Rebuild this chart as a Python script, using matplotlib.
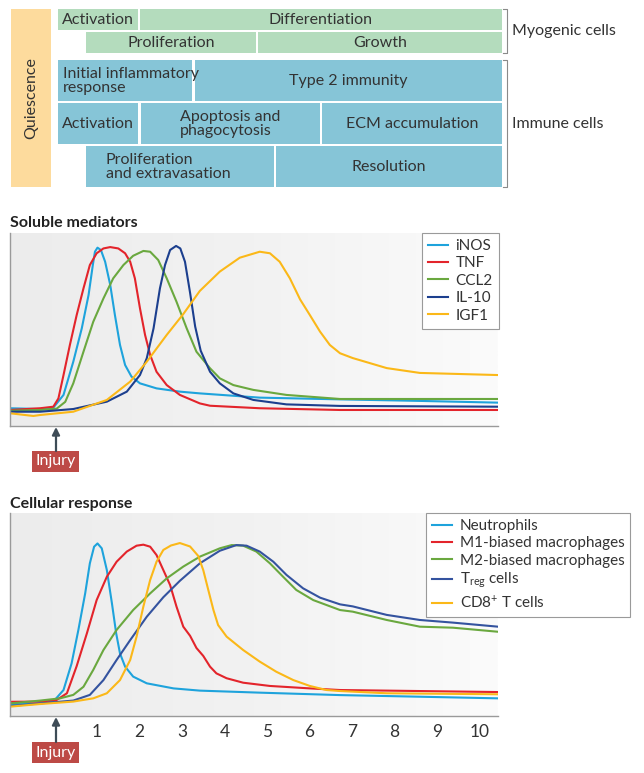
import numpy as np
import matplotlib
matplotlib.use('Agg')
import matplotlib.pyplot as plt
from matplotlib.patches import Rectangle
from matplotlib.colors import LinearSegmentedColormap

plt.rcParams['font.family'] = ['Lato', 'DejaVu Sans']
plt.rcParams['mathtext.fontset'] = 'custom'
plt.rcParams['mathtext.rm'] = 'Lato'
plt.rcParams['mathtext.it'] = 'Lato:italic'

# ---------------- data ----------------
# Soluble mediators (x = days after injury, y = relative level)
inos_x = [-1.05, -0.34, -0.03, 0.21, 0.44, 0.64, 0.80, 0.90, 0.95, 1.01, 1.09, 1.19, 1.31, 1.42, 1.54, 1.66, 1.81, 2.01, 2.40, 2.95, 3.42, 4.83, 6.72, 8.60, 10.44]
inos_y = [0.092, 0.088, 0.095, 0.161, 0.333, 0.506, 0.679, 0.834, 0.903, 0.924, 0.912, 0.851, 0.731, 0.575, 0.420, 0.316, 0.256, 0.221, 0.195, 0.178, 0.169, 0.147, 0.138, 0.130, 0.121]

tnf_x = [-1.05, -0.34, -0.03, 0.09, 0.21, 0.36, 0.52, 0.68, 0.83, 0.99, 1.15, 1.31, 1.50, 1.66, 1.78, 1.89, 2.01, 2.13, 2.25, 2.40, 2.64, 2.95, 3.42, 3.66, 4.83, 6.72, 10.44]
tnf_y = [0.083, 0.092, 0.100, 0.143, 0.264, 0.420, 0.575, 0.713, 0.834, 0.895, 0.920, 0.927, 0.920, 0.895, 0.851, 0.765, 0.610, 0.472, 0.368, 0.281, 0.212, 0.161, 0.117, 0.105, 0.092, 0.083, 0.083]

ccl2_x = [-1.05, -0.34, 0.05, 0.25, 0.44, 0.68, 0.91, 1.15, 1.38, 1.62, 1.85, 2.09, 2.25, 2.44, 2.64, 2.87, 3.11, 3.34, 3.66, 3.89, 4.21, 4.68, 5.46, 6.72, 10.44]
ccl2_y = [0.079, 0.083, 0.090, 0.125, 0.221, 0.385, 0.540, 0.661, 0.765, 0.834, 0.882, 0.907, 0.903, 0.860, 0.765, 0.644, 0.506, 0.385, 0.299, 0.247, 0.212, 0.187, 0.161, 0.140, 0.140]

il10_x = [-1.05, -0.34, 0.44, 1.23, 1.70, 2.01, 2.17, 2.33, 2.48, 2.60, 2.72, 2.86, 2.96, 3.07, 3.19, 3.31, 3.44, 3.66, 3.89, 4.21, 4.68, 5.46, 6.72, 10.44]
il10_y = [0.074, 0.074, 0.088, 0.126, 0.178, 0.264, 0.351, 0.506, 0.713, 0.834, 0.912, 0.933, 0.920, 0.851, 0.690, 0.515, 0.390, 0.281, 0.221, 0.169, 0.135, 0.112, 0.104, 0.100]

igf1_x = [-1.05, -0.50, -0.34, 0.44, 1.23, 1.78, 2.17, 2.64, 3.03, 3.42, 3.89, 4.36, 4.83, 5.07, 5.30, 5.54, 5.78, 6.01, 6.25, 6.48, 6.72, 7.02, 7.82, 8.60, 10.44]
igf1_y = [0.066, 0.052, 0.057, 0.074, 0.135, 0.230, 0.333, 0.472, 0.580, 0.700, 0.800, 0.872, 0.903, 0.895, 0.851, 0.765, 0.656, 0.575, 0.489, 0.420, 0.377, 0.352, 0.300, 0.275, 0.264]

# Cellular response
neut_x = [-1.05, -0.34, -0.03, 0.21, 0.40, 0.56, 0.72, 0.83, 0.93, 1.01, 1.11, 1.23, 1.35, 1.45, 1.54, 1.66, 1.85, 2.17, 2.80, 3.42, 4.83, 6.72, 8.60, 10.44]
neut_y = [0.059, 0.062, 0.071, 0.128, 0.259, 0.424, 0.604, 0.752, 0.834, 0.850, 0.826, 0.719, 0.555, 0.407, 0.308, 0.243, 0.194, 0.161, 0.136, 0.125, 0.115, 0.103, 0.095, 0.087]

m1_x = [-1.05, -0.34, 0.05, 0.29, 0.52, 0.76, 0.99, 1.23, 1.46, 1.70, 1.93, 2.09, 2.25, 2.40, 2.56, 2.72, 2.87, 3.03, 3.19, 3.34, 3.50, 3.66, 3.81, 4.05, 4.44, 5.07, 6.01, 6.72, 10.44]
m1_y = [0.070, 0.071, 0.079, 0.112, 0.246, 0.407, 0.571, 0.686, 0.760, 0.810, 0.839, 0.844, 0.834, 0.793, 0.719, 0.645, 0.539, 0.440, 0.395, 0.335, 0.296, 0.243, 0.210, 0.186, 0.164, 0.148, 0.136, 0.128, 0.118]

m2_x = [-1.05, -0.34, 0.13, 0.44, 0.68, 0.91, 1.15, 1.46, 1.85, 2.25, 2.64, 3.03, 3.42, 3.89, 4.17, 4.44, 4.75, 5.07, 5.38, 5.69, 6.09, 6.72, 7.02, 7.82, 8.60, 9.38, 10.44]
m2_y = [0.062, 0.076, 0.087, 0.104, 0.144, 0.227, 0.325, 0.424, 0.522, 0.604, 0.678, 0.736, 0.785, 0.826, 0.842, 0.839, 0.810, 0.752, 0.686, 0.621, 0.571, 0.522, 0.514, 0.473, 0.440, 0.435, 0.415]

treg_x = [-1.05, -0.34, 0.44, 0.83, 1.15, 1.46, 1.78, 2.17, 2.56, 2.95, 3.42, 3.89, 4.28, 4.52, 4.83, 5.15, 5.46, 5.85, 6.25, 6.72, 7.02, 7.82, 8.60, 9.38, 10.44]
treg_y = [0.049, 0.062, 0.076, 0.104, 0.177, 0.276, 0.374, 0.489, 0.585, 0.666, 0.752, 0.814, 0.842, 0.839, 0.810, 0.760, 0.695, 0.629, 0.583, 0.550, 0.540, 0.498, 0.473, 0.460, 0.440]

cd8_x = [-1.05, -0.34, 0.44, 0.91, 1.23, 1.54, 1.78, 1.93, 2.09, 2.25, 2.40, 2.56, 2.74, 2.95, 3.19, 3.38, 3.50, 3.62, 3.74, 3.85, 4.05, 4.44, 4.83, 5.22, 5.62, 6.01, 6.40, 6.72, 7.82, 10.44]
cd8_y = [0.046, 0.059, 0.071, 0.087, 0.112, 0.177, 0.276, 0.391, 0.539, 0.670, 0.760, 0.818, 0.840, 0.852, 0.835, 0.789, 0.719, 0.620, 0.522, 0.448, 0.391, 0.325, 0.268, 0.218, 0.177, 0.148, 0.128, 0.123, 0.112, 0.107]

soluble_labels = ['iNOS', 'TNF', 'CCL2', 'IL-10', 'IGF1']
cellular_labels = ['Neutrophils', 'M1-biased macrophages', 'M2-biased macrophages',
                   r'T$_{\mathregular{reg}}$ cells', r'CD8$^{\mathregular{+}}$ T cells']
day_ticks = [1, 2, 3, 4, 5, 6, 7, 8, 9, 10]

myogenic_rows = [[('Activation', 58, 138), ('Differentiation', 140, 502)],
                 [('Proliferation', 86, 256), ('Growth', 258, 502)]]
immune_rows = [[('Initial inflammatory\nresponse', 58, 192), ('Type 2 immunity', 195, 502)],
               [('Activation', 58, 138), ('Apoptosis and\nphagocytosis', 141, 320), ('ECM accumulation', 322, 502)],
               [('Proliferation\nand extravasation', 86, 274), ('Resolution', 276, 502)]]

# ---------------- style ----------------
C_LBLUE = '#1ea3dc'
C_RED = '#e3242b'
C_GREEN = '#6aa83f'
C_DBLUE = '#1c3f8e'
C_TREG = '#34539f'
C_YELLOW = '#fbb818'
BOX_GREEN = '#b4dcbd'
BOX_BLUE = '#86c5d7'
BOX_QUI = '#fddb9d'
TXT = '#333333'

W, H = 644, 773
fig = plt.figure(figsize=(W / 100, H / 100), dpi=100)

def px_axes(x0, y0, x1, y1):
    return fig.add_axes([x0 / W, 1 - y1 / H, (x1 - x0) / W, (y1 - y0) / H])

ov = fig.add_axes([0, 0, 1, 1])
ov.set_xlim(0, W)
ov.set_ylim(H, 0)
ov.axis('off')
ov.patch.set_alpha(0)

# Quiescence
ov.add_patch(Rectangle((11, 9), 40, 178, facecolor=BOX_QUI, edgecolor='none'))
ov.text(31, 98, 'Quiescence', rotation=90, ha='center', va='center', fontsize=11.5, color=TXT)

fs_box = 11.5
row_y = [(9, 30), (32, 53)]
for (y0, y1), row in zip(row_y, myogenic_rows):
    for label, x0, x1 in row:
        ov.add_patch(Rectangle((x0, y0), x1 - x0, y1 - y0, facecolor=BOX_GREEN, edgecolor='none'))
        ov.text((x0 + x1) / 2, (y0 + y1) / 2 + 0.5, label, ha='center', va='center', fontsize=fs_box, color=TXT)

row_y = [(60, 101), (103, 144), (146, 187)]
for (y0, y1), row in zip(row_y, immune_rows):
    for label, x0, x1 in row:
        ov.add_patch(Rectangle((x0, y0), x1 - x0, y1 - y0, facecolor=BOX_BLUE, edgecolor='none'))
        if label.startswith('Initial'):
            ov.text(x0 + 5, (y0 + y1) / 2 + 0.5, label, ha='left', va='center', fontsize=fs_box,
                    color=TXT, linespacing=1.0)
        elif label.startswith('Proliferation\n'):
            ov.text(x0 + 20, (y0 + y1) / 2 + 0.5, label, ha='left', va='center', fontsize=fs_box,
                    color=TXT, linespacing=1.0)
        elif '\n' in label:
            ov.text((x0 + x1) / 2, (y0 + y1) / 2 + 0.5, label, ha='center', va='center', fontsize=fs_box,
                    color=TXT, linespacing=1.0, multialignment='left')
        else:
            ov.text((x0 + x1) / 2, (y0 + y1) / 2 + 0.5, label, ha='center', va='center', fontsize=fs_box,
                    color=TXT)

# brackets
for (y0, y1), label in [((9, 53), 'Myogenic cells'), ((60, 187), 'Immune cells')]:
    ov.plot([503, 507, 507, 503], [y0, y0, y1, y1], color='#8a8a8a', lw=0.8)
    ov.text(512, (y0 + y1) / 2, label, ha='left', va='center', fontsize=11.5, color=TXT)

# titles
ov.text(10, 227, 'Soluble mediators', ha='left', va='baseline', fontsize=11.5, fontweight='bold', color='#222222')
ov.text(10, 508, 'Cellular response', ha='left', va='baseline', fontsize=11.5, fontweight='bold', color='#222222')

# injury markers
for tip, top in [(427, 451), (717, 742)]:
    ov.annotate('', xy=(56, tip), xytext=(56, top),
                arrowprops=dict(arrowstyle='-|>', color='#3e4c57', lw=1.6, mutation_scale=11,
                                shrinkA=0, shrinkB=0))
    ov.add_patch(Rectangle((32, top), 47, 21, facecolor='#bd4a46', edgecolor='none'))
    ov.text(55.5, top + 10.5, 'Injury', ha='center', va='center', fontsize=11.5, color='white')

grad = LinearSegmentedColormap.from_list('bg', ['#ececec', '#f2f2f2', '#fbfbfb'])
XMIN, XMAX = -1.05, 10.44

def style_axes(ax):
    ax.set_xlim(XMIN, XMAX)
    ax.set_ylim(0, 1)
    ax.imshow(np.linspace(0, 1, 256)[None, :], extent=(XMIN, XMAX, 0, 1), aspect='auto',
              cmap=grad, zorder=0)
    for s in ['top', 'right']:
        ax.spines[s].set_visible(False)
    for s in ['left', 'bottom']:
        ax.spines[s].set_color('#9a9a9a')
        ax.spines[s].set_linewidth(1.0)
    ax.set_yticks([])

ax1 = px_axes(10, 233, 498, 426)
style_axes(ax1)
ax1.set_xticks([])
lw = 1.5
for xs, ys, c, lab in [(inos_x, inos_y, C_LBLUE, soluble_labels[0]),
                       (tnf_x, tnf_y, C_RED, soluble_labels[1]),
                       (ccl2_x, ccl2_y, C_GREEN, soluble_labels[2]),
                       (il10_x, il10_y, C_DBLUE, soluble_labels[3]),
                       (igf1_x, igf1_y, C_YELLOW, soluble_labels[4])]:
    ax1.plot(xs, ys, color=c, lw=lw, label=lab, solid_joinstyle='round')
leg1 = ax1.legend(loc='upper right', bbox_to_anchor=(499 / W, 1 - 233 / H), bbox_transform=fig.transFigure,
                  frameon=True, fancybox=False, edgecolor='#9a9a9a', framealpha=1, facecolor='white',
                  borderaxespad=0, handlelength=1.3, handletextpad=0.5, labelspacing=0.22,
                  fontsize=11, borderpad=0.4)
leg1.get_frame().set_linewidth(0.8)
for t in leg1.get_texts():
    t.set_color(TXT)

ax2 = px_axes(10, 513, 498, 716)
style_axes(ax2)
for xs, ys, c, lab in [(neut_x, neut_y, C_LBLUE, cellular_labels[0]),
                       (m1_x, m1_y, C_RED, cellular_labels[1]),
                       (m2_x, m2_y, C_GREEN, cellular_labels[2]),
                       (treg_x, treg_y, C_TREG, cellular_labels[3]),
                       (cd8_x, cd8_y, C_YELLOW, cellular_labels[4])]:
    ax2.plot(xs, ys, color=c, lw=lw, label=lab, solid_joinstyle='round')
ax2.set_xticks(day_ticks)
ax2.set_xticklabels([str(d) for d in day_ticks])
ax2.tick_params(axis='x', length=0, labelsize=12.5, labelcolor=TXT, pad=6)
leg2 = ax2.legend(loc='upper left', bbox_to_anchor=(426 / W, 1 - 513 / H), bbox_transform=fig.transFigure,
                  frameon=True, fancybox=False, edgecolor='#9a9a9a', framealpha=1, facecolor='white',
                  borderaxespad=0, handlelength=1.3, handletextpad=0.5, labelspacing=0.22,
                  fontsize=11, borderpad=0.4)
leg2.get_frame().set_linewidth(0.8)
for t in leg2.get_texts():
    t.set_color(TXT)

fig.savefig('out.png', dpi=100)
